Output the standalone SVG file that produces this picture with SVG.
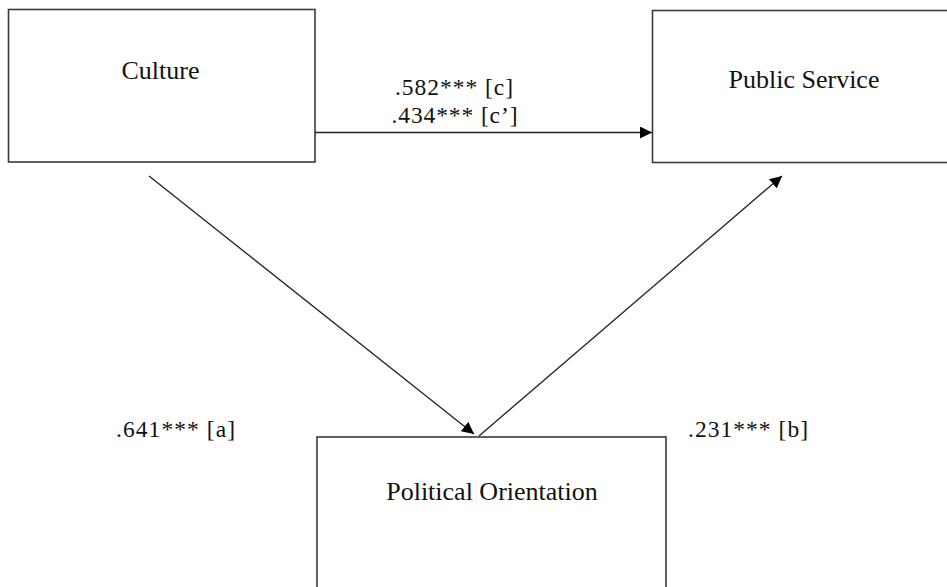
<svg xmlns="http://www.w3.org/2000/svg" width="947" height="587" viewBox="0 0 947 587">
<defs>
<marker id="arr" viewBox="0 0 12 12" refX="12" refY="6" markerWidth="12" markerHeight="12" markerUnits="userSpaceOnUse" orient="auto">
<path d="M0,0 L12,6 L0,12 Z" fill="#000"/>
</marker>
</defs>
<style>
.box{fill:#fff;stroke:#3a3a3a;stroke-width:1.6}
.t{font-family:"Liberation Serif","Times New Roman",serif;font-size:26px;fill:#111;text-anchor:middle}
.lbl{font-family:"Liberation Serif","Times New Roman",serif;font-size:23.5px;fill:#111;text-anchor:middle}
.edge{stroke:#222;stroke-width:1.3;fill:none;marker-end:url(#arr)}
</style>
<rect width="947" height="587" fill="#fff"/>
<g id="culture">
<rect class="box" x="8.5" y="9.5" width="306.5" height="152.5"/>
<text class="t" x="160.5" y="79">Culture</text>
</g>
<g id="public-service">
<rect class="box" x="652.5" y="10.5" width="310" height="152"/>
<text class="t" x="804" y="88">Public Service</text>
</g>
<g id="political-orientation">
<rect class="box" x="317" y="437" width="349" height="170"/>
<text class="t" x="492" y="500">Political Orientation</text>
</g>
<g id="connectors">
<line class="edge" x1="315" y1="132.5" x2="652" y2="132.5"/>
<line class="edge" x1="149" y1="176" x2="474" y2="434"/>
<line class="edge" x1="479" y1="436" x2="782" y2="176"/>
</g>
<g id="labels">
<text class="lbl" x="454" y="95" textLength="118">.582*** [c]</text>
<text class="lbl" x="454.5" y="123" textLength="126">.434*** [c’]</text>
<text class="lbl" x="175.5" y="437" textLength="119">.641*** [a]</text>
<text class="lbl" x="748" y="437" textLength="120">.231*** [b]</text>
</g>
</svg>
